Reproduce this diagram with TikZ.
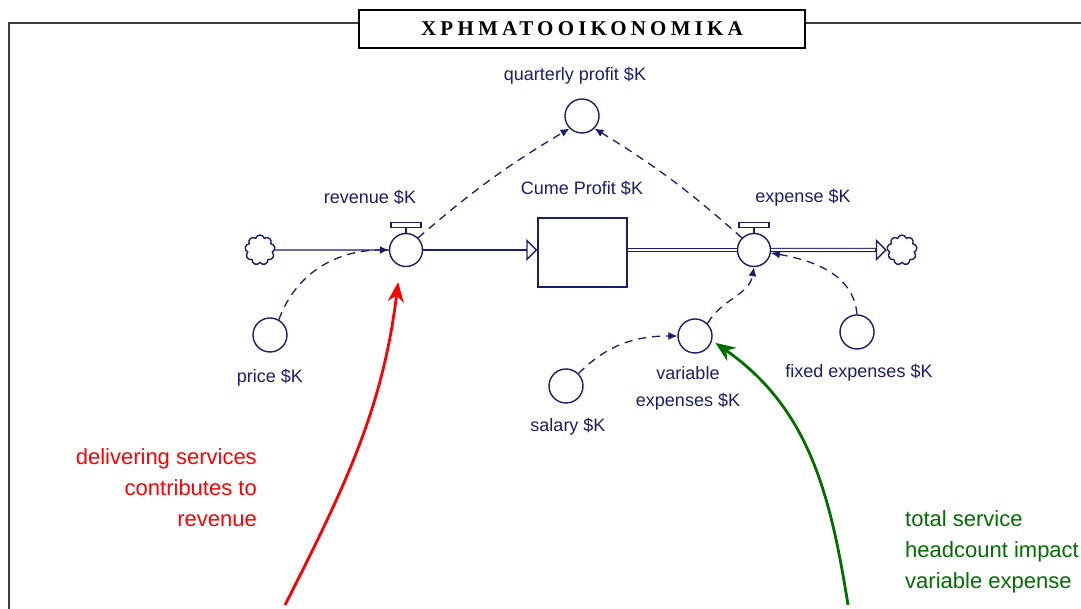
\documentclass[tikz,border=0pt]{standalone}
\usepackage{fontspec}
\setmainfont{Liberation Sans}
\newfontfamily\titlefont[LetterSpace=20]{Liberation Serif}
\usetikzlibrary{arrows.meta,shapes.symbols,positioning}
\definecolor{navyline}{RGB}{28,28,110}
\definecolor{notered}{RGB}{255,0,0}
\definecolor{notegreen}{RGB}{0,110,0}
\definecolor{framegray}{RGB}{60,60,60}

\begin{document}
\begin{tikzpicture}[x=1pt, y=1pt,
    stockbox/.style={draw=navyline, line width=1.5pt, minimum width=89pt, minimum height=69pt, inner sep=0pt},
    valvecirc/.style={circle, draw=navyline, line width=1.4pt, minimum size=33pt, inner sep=0pt},
    auxcirc/.style={circle, draw=navyline, line width=1.4pt, minimum size=34pt, inner sep=0pt},
    sinkcloud/.style={cloud, cloud puffs=9, aspect=1, draw=navyline, line width=1.4pt, minimum size=30pt, inner sep=0pt},
    varlabel/.style={text=navyline, font=\fontsize{18}{27}\selectfont, align=center, inner sep=0pt},
    flowline/.style={draw=navyline, line width=1.4pt},
    flowdouble/.style={draw=navyline, double=white, line width=1.1pt, double distance=2pt},
    openhead/.style={-{Triangle[open, length=11pt, width=22pt]}},
    infolink/.style={draw=navyline, line width=1.3pt, dash pattern=on 8pt off 6pt, -{Latex[length=9pt, width=8pt]}},
    notetext/.style={font=\fontsize{22}{31}\selectfont, inner sep=0pt}]
    \useasboundingbox (0,0) rectangle (1081,609);

    % Frame and title
    \node[draw=black, line width=1.5pt, minimum width=446pt, minimum height=38pt, inner sep=0pt,
          font=\titlefont\bfseries\fontsize{21}{24}\selectfont] (title) at (582,580) {ΧΡΗΜΑΤΟΟΙΚΟΝΟΜΙΚΑ};
    \coordinate (frameL) at (9,0);
    \coordinate (frameR) at (1081,586);
    \draw[framegray, line width=1.5pt] (frameL) |- (title.west |- frameR);
    \draw[framegray, line width=1.5pt] (title.east |- frameR) -- (frameR);

    % Stock and flows
    \node[sinkcloud] (srcL) at (260,359) {};
    \node[valvecirc] (rev) at (406,359) {};
    \node[stockbox] (cume) at (582.5,356.5) {};
    \node[valvecirc] (exp) at (754,359) {};
    \node[sinkcloud] (sinkR) at (902,359) {};

    \draw[flowline] (srcL.east) -- (rev.west);
    \draw[flowline, openhead] (rev.east) -- (rev.east -| cume.west);
    \draw[flowdouble] (exp.west -| cume.east) -- (exp.west);
    \draw[flowdouble, shorten >=11pt] (exp.east) -- (sinkR.west);
    \draw[flowline, openhead] ([xshift=-12pt]sinkR.west) -- (sinkR.west);

    % Valve handles
    \foreach \v in {rev,exp} {
        \draw[navyline, line width=1.4pt] (\v.north) -- ++(0,5);
        \draw[navyline, line width=1.4pt, fill=white] ([xshift=-15pt,yshift=5pt]\v.north) rectangle ([xshift=15pt,yshift=10pt]\v.north);
    }

    % Auxiliaries
    \node[auxcirc] (qp) at (582,493) {};
    \node[auxcirc] (price) at (270,274) {};
    \node[auxcirc] (salary) at (566,223) {};
    \node[auxcirc] (varexp) at (695,273) {};
    \node[auxcirc] (fixed) at (857,277) {};

    % Labels
    \node[varlabel] (revlbl) at (370,412) {revenue \$K};
    \node[varlabel] (cumelbl) at (582,421) {Cume Profit \$K};
    \node[varlabel] (explbl) at (803,411) {expense \$K};
    \node[varlabel] (qplbl) at (575,533) {quarterly profit \$K};
    \node[varlabel] (pricelbl) at (270,231) {price \$K};
    \node[varlabel] (salarylbl) at (568,182) {salary \$K};
    \node[varlabel] (varexplbl) at (688,221) {variable\\expenses \$K};
    \node[varlabel] (fixedlbl) at (859,236) {fixed expenses \$K};

    % Information links
    \draw[infolink] (rev.north east) to[bend left=5] (qp.south west);
    \draw[infolink] (exp.north west) to[bend right=5] (qp.south east);
    \draw[infolink] (price.60) to[out=70, in=180] (rev.west);
    \draw[infolink] (fixed.north) to[out=95, in=-10] (exp.-10);
    \draw[infolink] (varexp.north east) to[out=60, in=-100] (exp.south);
    \draw[infolink] (salary.north east) to[out=45, in=180] (varexp.west);

    % Notes
    \coordinate (redfoot) at (285,4);
    \coordinate (greenfoot) at (848,4);
    \draw[notered, line width=2.8pt, shorten >=16pt, -{Stealth[length=20pt, width=16pt]}]
        (redfoot) to[out=63, in=-97] (rev.250);
    \draw[notegreen, line width=2.8pt, shorten >=4pt, -{Stealth[length=20pt, width=16pt]}]
        (greenfoot) to[out=99, in=-35] (varexp.-15);
    \node[notetext, text=notered, anchor=east, align=right] (revnote) at (257,121)
        {delivering services\\contributes to\\revenue};
    \node[notetext, text=notegreen, anchor=west, align=left] (expnote) at (905,57)
        {total service\\headcount impact\\variable expense};
\end{tikzpicture}
\end{document}
